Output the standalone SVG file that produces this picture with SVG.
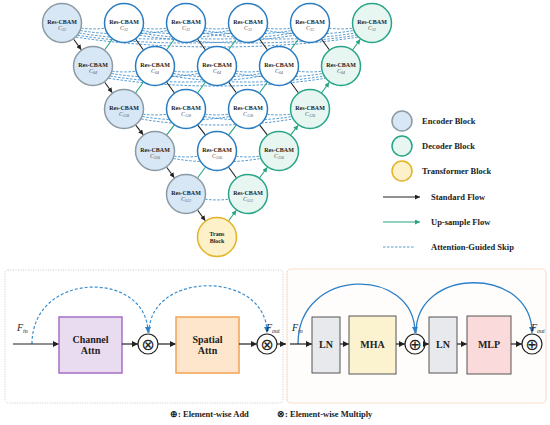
<svg xmlns="http://www.w3.org/2000/svg" width="550" height="425" viewBox="0 0 550 425">
<style>
.enc{fill:#d7e7f5;stroke:#8c9aa4;stroke-width:1.5}
.mid{fill:#ffffff;stroke:#2a7cc1;stroke-width:1.5}
.dec{fill:#e7f6f1;stroke:#27a587;stroke-width:1.5}
.trn{fill:#fcf1c8;stroke:#e3b327;stroke-width:1.5}
.nt{font-family:"Liberation Serif",serif;font-weight:bold;font-size:6px;fill:#222;text-anchor:middle}
.ns{font-family:"Liberation Serif",serif;font-style:italic;font-size:6px;fill:#555;text-anchor:middle}
.skip{fill:none;stroke:#4390cc;stroke-width:0.9;stroke-dasharray:2.5 1.5}
.blk{stroke:#222;stroke-width:1.1;fill:none}
.grn{stroke:#25a582;stroke-width:1.1;fill:none}
.lg{font-family:"Liberation Serif",serif;font-weight:bold;font-size:8.5px;fill:#222}
.bx{font-family:"Liberation Serif",serif;font-weight:bold;font-size:10px;fill:#222;text-anchor:middle}
.fl{stroke:#222;stroke-width:1.2;fill:none}
.dsh{fill:none;stroke:#3b8fd0;stroke-width:1.2;stroke-dasharray:3 2}
.arc{fill:none;stroke:#2b80c8;stroke-width:1.3}
.op{fill:#fff;stroke:#222;stroke-width:1.2}
.sym{font-family:"DejaVu Sans",sans-serif;fill:#222;text-anchor:middle}
.fv{font-family:"Liberation Serif",serif;font-style:italic;font-size:10px;fill:#222}
</style>
<defs>
<marker id="mb" viewBox="0 0 10 10" refX="10" refY="5" markerWidth="5" markerHeight="5" markerUnits="userSpaceOnUse" orient="auto"><path d="M0,0 L10,5 L0,10 z" fill="#222"/></marker>
<marker id="mg" viewBox="0 0 10 10" refX="10" refY="5" markerWidth="5" markerHeight="5" markerUnits="userSpaceOnUse" orient="auto"><path d="M0,0 L10,5 L0,10 z" fill="#25a582"/></marker>
<marker id="mk" viewBox="0 0 10 10" refX="10" refY="5" markerWidth="6" markerHeight="6" markerUnits="userSpaceOnUse" orient="auto"><path d="M0,0 L10,5 L0,10 z" fill="#222"/></marker>
<marker id="mu" viewBox="0 0 10 10" refX="10" refY="5" markerWidth="6" markerHeight="6" markerUnits="userSpaceOnUse" orient="auto"><path d="M0,0 L10,5 L0,10 z" fill="#2b80c8"/></marker>
<path id="s1" class="skip" d="M19.3,5.2 C26.3,6.2 35.7,6.2 42.7,5.2"/>
<path id="s2" class="skip" d="M18.5,7.5 C44.6,12.2 79.4,12.2 105.5,7.5"/>
<path id="s3" class="skip" d="M17.3,10 C62.7,18 123.3,18 168.7,10"/>
<path id="s4" class="skip" d="M15.8,12.3 C80.7,22.6 167.3,22.6 232.2,12.3"/>
<path id="s5" class="skip" d="M14.1,14.1 C98.6,27.3 211.4,27.3 295.9,14.1"/>
</defs>
<rect width="550" height="425" fill="#ffffff"/>

<g id="connectors">
<g id="skips">
<use href="#s1" x="62" y="23"/><use href="#s1" x="124" y="23"/><use href="#s1" x="186" y="23"/><use href="#s1" x="248" y="23"/><use href="#s1" x="310" y="23"/>
<use href="#s2" x="62" y="23"/><use href="#s2" x="124" y="23"/><use href="#s2" x="186" y="23"/><use href="#s2" x="248" y="23"/>
<use href="#s3" x="62" y="23"/><use href="#s3" x="124" y="23"/><use href="#s3" x="186" y="23"/>
<use href="#s4" x="62" y="23"/><use href="#s4" x="124" y="23"/>
<use href="#s5" x="62" y="23"/>
<use href="#s1" x="93" y="66"/><use href="#s1" x="155" y="66"/><use href="#s1" x="217" y="66"/><use href="#s1" x="279" y="66"/>
<use href="#s2" x="93" y="66"/><use href="#s2" x="155" y="66"/><use href="#s2" x="217" y="66"/>
<use href="#s3" x="93" y="66"/><use href="#s3" x="155" y="66"/>
<use href="#s4" x="93" y="66"/>
<use href="#s1" x="124" y="109"/><use href="#s1" x="186" y="109"/><use href="#s1" x="248" y="109"/>
<use href="#s2" x="124" y="109"/><use href="#s2" x="186" y="109"/>
<use href="#s3" x="124" y="109"/>
<use href="#s1" x="155" y="151"/><use href="#s1" x="217" y="151"/>
<use href="#s2" x="155" y="151"/>
<use href="#s1" x="186" y="194"/>
</g>
<g id="standard-flow">
<line class="blk" x1="73.7" y1="39.2" x2="81.3" y2="49.8" marker-end="url(#mb)"/>
<line class="blk" x1="135.7" y1="39.2" x2="143.3" y2="49.8"/>
<line class="blk" x1="197.7" y1="39.2" x2="205.3" y2="49.8"/>
<line class="blk" x1="259.7" y1="39.2" x2="267.3" y2="49.8"/>
<line class="blk" x1="321.7" y1="39.2" x2="329.3" y2="49.8"/>
<line class="blk" x1="104.7" y1="82.2" x2="112.3" y2="92.8" marker-end="url(#mb)"/>
<line class="blk" x1="166.7" y1="82.2" x2="174.3" y2="92.8"/>
<line class="blk" x1="228.7" y1="82.2" x2="236.3" y2="92.8"/>
<line class="blk" x1="290.7" y1="82.2" x2="298.3" y2="92.8"/>
<line class="blk" x1="135.7" y1="125.2" x2="143.3" y2="134.8" marker-end="url(#mb)"/>
<line class="blk" x1="197.7" y1="125.2" x2="205.3" y2="134.8"/>
<line class="blk" x1="259.7" y1="125.2" x2="267.3" y2="134.8"/>
<line class="blk" x1="166.7" y1="167.2" x2="174.3" y2="177.8" marker-end="url(#mb)"/>
<line class="blk" x1="228.7" y1="167.2" x2="236.3" y2="177.8"/>
<line class="blk" x1="197.7" y1="210.2" x2="205.3" y2="220.8" marker-end="url(#mb)"/>
</g>
<g id="upsample-flow">
<line class="grn" x1="104.7" y1="49.8" x2="112.3" y2="39.2"/>
<line class="grn" x1="166.7" y1="49.8" x2="174.3" y2="39.2"/>
<line class="grn" x1="228.7" y1="49.8" x2="236.3" y2="39.2"/>
<line class="grn" x1="290.7" y1="49.8" x2="298.3" y2="39.2"/>
<line class="grn" x1="352.7" y1="49.8" x2="360.3" y2="39.2" marker-end="url(#mg)"/>
<line class="grn" x1="135.7" y1="92.8" x2="143.3" y2="82.2"/>
<line class="grn" x1="197.7" y1="92.8" x2="205.3" y2="82.2"/>
<line class="grn" x1="259.7" y1="92.8" x2="267.3" y2="82.2"/>
<line class="grn" x1="321.7" y1="92.8" x2="329.3" y2="82.2" marker-end="url(#mg)"/>
<line class="grn" x1="166.7" y1="134.8" x2="174.3" y2="125.2"/>
<line class="grn" x1="228.7" y1="134.8" x2="236.3" y2="125.2"/>
<line class="grn" x1="290.7" y1="134.8" x2="298.3" y2="125.2" marker-end="url(#mg)"/>
<line class="grn" x1="197.7" y1="177.8" x2="205.3" y2="167.2"/>
<line class="grn" x1="259.7" y1="177.8" x2="267.3" y2="167.2" marker-end="url(#mg)"/>
<line class="grn" x1="228.7" y1="220.8" x2="236.3" y2="210.2" marker-end="url(#mg)"/>
</g>
</g>

<g id="nodes">
<g id="n0_0"><circle class="enc" cx="62" cy="23" r="19.5"/><text class="nt" x="62" y="24">Res-CBAM</text><text class="ns" x="62" y="29.5">C<tspan font-size="4" dy="1">32</tspan></text></g>
<g id="n0_1"><circle class="mid" cx="124" cy="23" r="19.5"/><text class="nt" x="124" y="24">Res-CBAM</text><text class="ns" x="124" y="29.5">C<tspan font-size="4" dy="1">32</tspan></text></g>
<g id="n0_2"><circle class="mid" cx="186" cy="23" r="19.5"/><text class="nt" x="186" y="24">Res-CBAM</text><text class="ns" x="186" y="29.5">C<tspan font-size="4" dy="1">32</tspan></text></g>
<g id="n0_3"><circle class="mid" cx="248" cy="23" r="19.5"/><text class="nt" x="248" y="24">Res-CBAM</text><text class="ns" x="248" y="29.5">C<tspan font-size="4" dy="1">32</tspan></text></g>
<g id="n0_4"><circle class="mid" cx="310" cy="23" r="19.5"/><text class="nt" x="310" y="24">Res-CBAM</text><text class="ns" x="310" y="29.5">C<tspan font-size="4" dy="1">32</tspan></text></g>
<g id="n0_5"><circle class="dec" cx="372" cy="23" r="19.5"/><text class="nt" x="372" y="24">Res-CBAM</text><text class="ns" x="372" y="29.5">C<tspan font-size="4" dy="1">32</tspan></text></g>

<g id="n1_0"><circle class="enc" cx="93" cy="66" r="19.5"/><text class="nt" x="93" y="67">Res-CBAM</text><text class="ns" x="93" y="72.5">C<tspan font-size="4" dy="1">64</tspan></text></g>
<g id="n1_1"><circle class="mid" cx="155" cy="66" r="19.5"/><text class="nt" x="155" y="67">Res-CBAM</text><text class="ns" x="155" y="72.5">C<tspan font-size="4" dy="1">64</tspan></text></g>
<g id="n1_2"><circle class="mid" cx="217" cy="66" r="19.5"/><text class="nt" x="217" y="67">Res-CBAM</text><text class="ns" x="217" y="72.5">C<tspan font-size="4" dy="1">64</tspan></text></g>
<g id="n1_3"><circle class="mid" cx="279" cy="66" r="19.5"/><text class="nt" x="279" y="67">Res-CBAM</text><text class="ns" x="279" y="72.5">C<tspan font-size="4" dy="1">64</tspan></text></g>
<g id="n1_4"><circle class="dec" cx="341" cy="66" r="19.5"/><text class="nt" x="341" y="67">Res-CBAM</text><text class="ns" x="341" y="72.5">C<tspan font-size="4" dy="1">64</tspan></text></g>

<g id="n2_0"><circle class="enc" cx="124" cy="109" r="19.5"/><text class="nt" x="124" y="110">Res-CBAM</text><text class="ns" x="124" y="115.5">C<tspan font-size="4" dy="1">128</tspan></text></g>
<g id="n2_1"><circle class="mid" cx="186" cy="109" r="19.5"/><text class="nt" x="186" y="110">Res-CBAM</text><text class="ns" x="186" y="115.5">C<tspan font-size="4" dy="1">128</tspan></text></g>
<g id="n2_2"><circle class="mid" cx="248" cy="109" r="19.5"/><text class="nt" x="248" y="110">Res-CBAM</text><text class="ns" x="248" y="115.5">C<tspan font-size="4" dy="1">128</tspan></text></g>
<g id="n2_3"><circle class="dec" cx="310" cy="109" r="19.5"/><text class="nt" x="310" y="110">Res-CBAM</text><text class="ns" x="310" y="115.5">C<tspan font-size="4" dy="1">128</tspan></text></g>

<g id="n3_0"><circle class="enc" cx="155" cy="151" r="19.5"/><text class="nt" x="155" y="152">Res-CBAM</text><text class="ns" x="155" y="157.5">C<tspan font-size="4" dy="1">256</tspan></text></g>
<g id="n3_1"><circle class="mid" cx="217" cy="151" r="19.5"/><text class="nt" x="217" y="152">Res-CBAM</text><text class="ns" x="217" y="157.5">C<tspan font-size="4" dy="1">256</tspan></text></g>
<g id="n3_2"><circle class="dec" cx="279" cy="151" r="19.5"/><text class="nt" x="279" y="152">Res-CBAM</text><text class="ns" x="279" y="157.5">C<tspan font-size="4" dy="1">256</tspan></text></g>

<g id="n4_0"><circle class="enc" cx="186" cy="194" r="19.5"/><text class="nt" x="186" y="195">Res-CBAM</text><text class="ns" x="186" y="200.5">C<tspan font-size="4" dy="1">512</tspan></text></g>
<g id="n4_1"><circle class="dec" cx="248" cy="194" r="19.5"/><text class="nt" x="248" y="195">Res-CBAM</text><text class="ns" x="248" y="200.5">C<tspan font-size="4" dy="1">512</tspan></text></g>

<g id="trans"><circle class="trn" cx="217" cy="237" r="19.5"/><text class="nt" x="217" y="236">Trans</text><text class="nt" x="217" y="243">Block</text></g>
</g>

<g id="legend">
<circle class="enc" cx="402" cy="121" r="10"/><text class="lg" x="422" y="124">Encoder Block</text>
<circle class="dec" cx="402" cy="146" r="10"/><text class="lg" x="422" y="149">Decoder Block</text>
<circle class="trn" cx="402" cy="171" r="10"/><text class="lg" x="422" y="174">Transformer Block</text>
<line class="blk" x1="383" y1="197" x2="420" y2="197" marker-end="url(#mb)"/><text class="lg" x="431" y="200">Standard Flow</text>
<line class="grn" x1="383" y1="222" x2="420" y2="222" marker-end="url(#mg)"/><text class="lg" x="431" y="225">Up-sample Flow</text>
<line class="skip" x1="383" y1="247" x2="415" y2="247" stroke-width="1"/><text class="lg" x="431" y="250">Attention-Guided Skip</text>
</g>

<g id="cbam-panel">
<rect x="5" y="270" width="278" height="133" rx="3" fill="#ffffff" stroke="#c8c8c8" stroke-width="1" stroke-dasharray="1 1.5"/>
<text class="fv" x="17" y="331">F<tspan font-size="6" dy="2">in</tspan></text>
<path class="dsh" d="M32,344 C32,270 148,270 148,333" marker-end="url(#mu)"/>
<path class="dsh" d="M149,333 C149,270 267,270 267,333" marker-end="url(#mu)"/>
<line class="fl" x1="13" y1="344" x2="59" y2="344" marker-end="url(#mk)"/>
<g id="channel-attn"><rect x="59" y="317" width="63" height="56" fill="#e9dcf1" stroke="#a66fc4" stroke-width="1.5"/><text class="bx" x="90.5" y="342.5">Channel</text><text class="bx" x="90.5" y="353.5">Attn</text></g>
<line class="fl" x1="122" y1="344" x2="138" y2="344" marker-end="url(#mk)"/>
<g id="mul1"><circle class="op" cx="148" cy="344" r="10"/><text class="sym" x="148" y="349.5" font-size="16">⊗</text></g>
<line class="fl" x1="158" y1="344" x2="176" y2="344" marker-end="url(#mk)"/>
<g id="spatial-attn"><rect x="176" y="317" width="63" height="56" fill="#fde6cb" stroke="#f2a356" stroke-width="1.5"/><text class="bx" x="207.5" y="342.5">Spatial</text><text class="bx" x="207.5" y="353.5">Attn</text></g>
<line class="fl" x1="239" y1="344" x2="257" y2="344" marker-end="url(#mk)"/>
<g id="mul2"><circle class="op" cx="267" cy="344" r="10"/><text class="sym" x="267" y="349.5" font-size="16">⊗</text></g>
<text class="fv" x="266" y="331">F<tspan font-size="6" dy="2">out</tspan></text>
<line class="fl" x1="277" y1="344" x2="286" y2="344" marker-end="url(#mk)"/>
</g>

<g id="transformer-panel">
<rect x="287" y="269" width="259" height="134" rx="4" fill="#fefdfb" stroke="#f3e2cc" stroke-width="1.2"/>
<text class="fv" x="292" y="331">F<tspan font-size="6" dy="2">in</tspan></text>
<path class="arc" d="M298,344 C298,266 415,266 415,333" marker-end="url(#mu)"/>
<path class="arc" d="M416,333 C416,266 532,266 532,333" marker-end="url(#mu)"/>
<line class="fl" x1="290" y1="344" x2="312" y2="344" marker-end="url(#mk)"/>
<g id="ln1"><rect x="312" y="317" width="28" height="56" fill="#e8e9ec" stroke="#555" stroke-width="1"/><text class="bx" x="326" y="348">LN</text></g>
<line class="fl" x1="340" y1="344" x2="349" y2="344" marker-end="url(#mk)"/>
<g id="mha"><rect x="349" y="316" width="47" height="58" fill="#fbf3d0" stroke="#555" stroke-width="1"/><text class="bx" x="372.5" y="348">MHA</text></g>
<line class="fl" x1="396" y1="344" x2="405" y2="344" marker-end="url(#mk)"/>
<g id="add1"><circle class="op" cx="415" cy="344" r="10"/><text class="sym" x="415" y="349.5" font-size="16">⊕</text></g>
<line class="fl" x1="425" y1="344" x2="429" y2="344" marker-end="url(#mk)"/>
<g id="ln2"><rect x="429" y="317" width="28" height="56" fill="#e8e9ec" stroke="#555" stroke-width="1"/><text class="bx" x="443" y="348">LN</text></g>
<line class="fl" x1="457" y1="344" x2="467" y2="344" marker-end="url(#mk)"/>
<g id="mlp"><rect x="467" y="316" width="44" height="58" fill="#fadada" stroke="#555" stroke-width="1"/><text class="bx" x="489" y="348">MLP</text></g>
<line class="fl" x1="511" y1="344" x2="522" y2="344" marker-end="url(#mk)"/>
<g id="add2"><circle class="op" cx="532" cy="344" r="10"/><text class="sym" x="532" y="349.5" font-size="16">⊕</text></g>
<text class="fv" x="531" y="331">F<tspan font-size="6" dy="2">out</tspan></text>
</g>

<g id="caption">
<text class="lg" x="170" y="417">⊕: Element-wise Add</text>
<text class="lg" x="277" y="417">⊗: Element-wise Multiply</text>
</g>
</svg>
